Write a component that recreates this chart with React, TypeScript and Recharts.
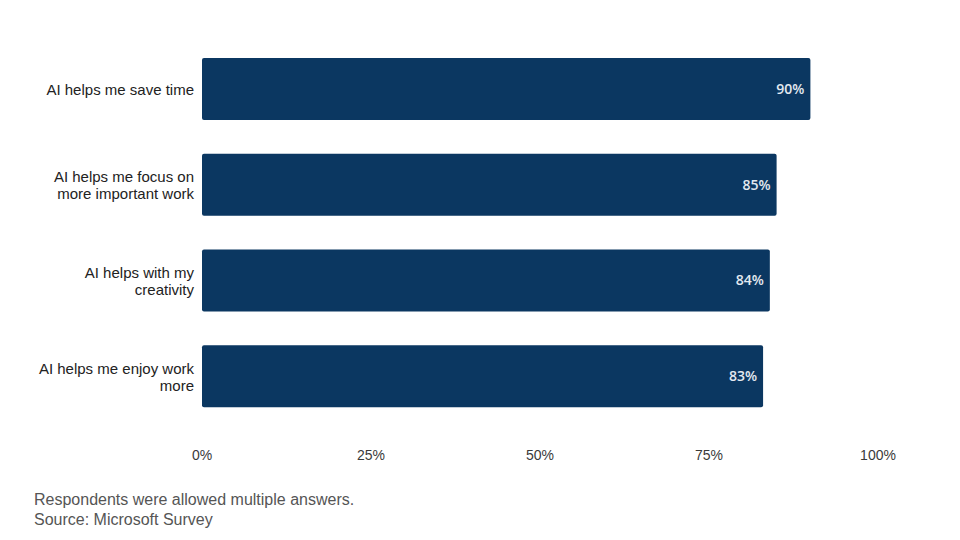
import { BarChart, Bar, XAxis, YAxis, LabelList } from "recharts";

// Survey statements (line breaks as in the picture)
const categories = [
  "AI helps me save time",
  "AI helps me focus on\nmore important work",
  "AI helps with my\ncreativity",
  "AI helps me enjoy work\nmore",
];
const shares = [90, 85, 84, 83];
const xTicks = [0, 25, 50, 75, 100];
const notes = ["Respondents were allowed multiple answers.", "Source: Microsoft Survey"];

const data = categories.map((name, i) => ({ name, value: shares[i] }));

const CategoryTick = (props: any) => {
  const { x, y, payload } = props;
  const lines = String(payload.value).split("\n");
  const lineH = 17;
  const startY = y - ((lines.length - 1) * lineH) / 2;
  return (
    <text
      x={x}
      y={startY}
      textAnchor="end"
      fill="#222222"
      fontSize={15}
      fontFamily="'Liberation Sans', Arial, sans-serif"
      dominantBaseline="central"
    >
      {lines.map((ln, i) => (
        <tspan key={i} x={x} y={startY + i * lineH}>
          {ln}
        </tspan>
      ))}
    </text>
  );
};

export default function App() {
  return (
    <div
      style={{
        position: "absolute",
        left: 0,
        top: 0,
        width: 960,
        height: 540,
        background: "#ffffff",
      }}
    >
      <BarChart
        width={960}
        height={540}
        data={data}
        layout="vertical"
        margin={{ top: 41, right: 82, left: 0, bottom: 86 }}
      >
        <XAxis
          type="number"
          domain={[0, 100]}
          ticks={xTicks}
          tickFormatter={(v: number) => `${v}%`}
          axisLine={false}
          tickLine={false}
          tickMargin={20}
          height={30}
          tick={{ fontSize: 14, fill: "#3a3a3a", fontFamily: "'Liberation Sans', Arial, sans-serif" }}
        />
        <YAxis
          type="category"
          dataKey="name"
          width={202}
          axisLine={false}
          tickLine={false}
          tickMargin={2}
          interval={0}
          tick={<CategoryTick />}
        />
        <Bar dataKey="value" fill="#0b3761" radius={2} barSize={62} isAnimationActive={false}>
          <LabelList
            dataKey="value"
            position="insideRight"
            offset={6}
            formatter={(v: any) => `${v}%`}
            fill="#e3e9f0"
            fontSize={14}
            fontWeight={600}
            fontFamily="'Open Sans', sans-serif"
          />
        </Bar>
      </BarChart>
      <div
        style={{
          position: "absolute",
          left: 34,
          top: 490,
          fontFamily: "'Liberation Sans', Arial, sans-serif",
          fontSize: 16,
          lineHeight: "20px",
          color: "#555555",
        }}
      >
        {notes.map((n) => (
          <div key={n}>{n}</div>
        ))}
      </div>
    </div>
  );
}
